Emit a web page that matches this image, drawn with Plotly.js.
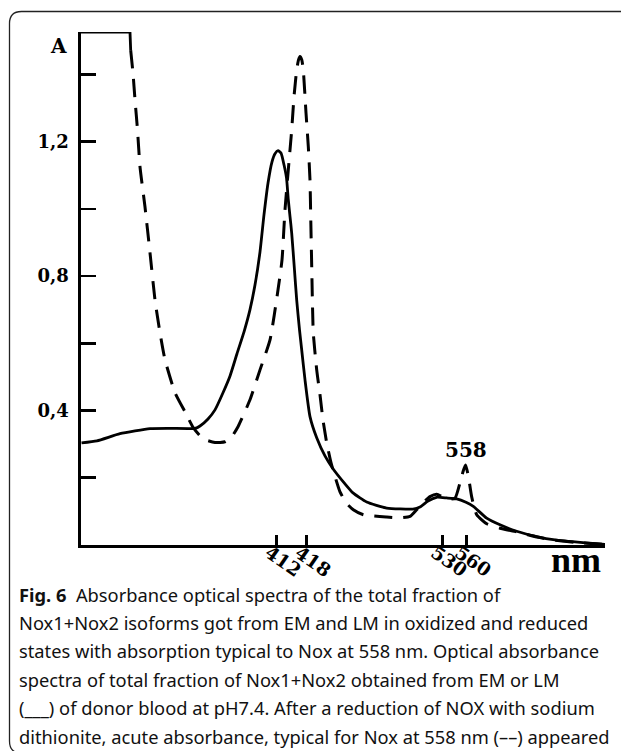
<!DOCTYPE html>
<html><head><meta charset="utf-8">
<script src="https://cdn.plot.ly/plotly-3.0.1.min.js"></script>
<style>html,body{margin:0;padding:0;background:#fff;}#chart{width:621px;height:751px;}</style>
</head><body><div id="chart"></div>
<script>
// Horizontal scale: position along the drawn wavelength axis (0 = left end, 100 = right end).
// The original schematic scale is non-linear, so the nm ticks sit at their drawn positions.
const xTickPos  = [37.35, 42.99, 69.03, 73.61];
const xTickText = ['412', '418', '530', '560'];
const yTickVals = [0.2, 0.4, 0.6, 0.8, 1.0, 1.2, 1.4];
const yTickText = ['', '0,4', '', '0,8', '', '1,2', ''];

// Oxidized spectrum (solid line)
const oxidX = [0.1, 3.05, 7.44, 13.17, 16.98, 21.76, 22.71, 24.24, 25.57, 27.1, 28.44, 29.77, 31.11, 32.25, 33.21, 34.16, 34.92, 35.69, 36.45, 37.02, 37.60, 38.17, 38.74, 39.22, 39.56, 39.89, 40.21, 40.74, 41.16, 41.70, 42.12, 42.75, 43.70, 44.98, 46.56, 48.09, 50.38, 51.91, 54.52, 58.34, 63.36, 64.69, 66.22, 67.88, 69.79, 71.70, 73.47, 74.87, 77.42, 79.96, 83.15, 86.97, 90.46, 95.80, 100];
const oxidA = [0.304, 0.310, 0.331, 0.346, 0.347, 0.347, 0.354, 0.375, 0.402, 0.453, 0.503, 0.569, 0.634, 0.700, 0.774, 0.872, 0.982, 1.077, 1.140, 1.164, 1.173, 1.166, 1.131, 1.092, 1.027, 0.977, 0.928, 0.818, 0.729, 0.640, 0.580, 0.491, 0.382, 0.319, 0.265, 0.227, 0.182, 0.155, 0.128, 0.110, 0.107, 0.113, 0.131, 0.142, 0.140, 0.137, 0.127, 0.115, 0.080, 0.060, 0.041, 0.025, 0.015, 0.007, 0.002];

// Dithionite-reduced spectrum (dashed line); first points are off-scale (saturated)
const redX = [0, 9.35, 9.48, 9.92, 10.31, 10.78, 11.26, 12.21, 13.17, 14.12, 15.08, 16.03, 17.94, 19.85, 21.43, 23.28, 25.57, 27.48, 28.63, 29.96, 32.25, 34.16, 36.07, 37.60, 38.36, 38.93, 39.56, 40.21, 40.65, 41.16, 41.51, 41.79, 42.14, 42.42, 42.94, 43.38, 43.70, 43.84, 44.03, 44.33, 44.98, 45.61, 46.18, 46.89, 47.71, 48.47, 49.43, 50.71, 51.97, 53.88, 58.34, 60.88, 62.79, 64.06, 65.65, 66.60, 67.88, 69.79, 71.37, 72.33, 72.90, 73.38, 73.91, 74.56, 75.52, 77.42, 79.96, 83.15, 86.97, 90.46, 95.80, 100];
const redA = [1.526, 1.526, 1.472, 1.404, 1.324, 1.235, 1.125, 1.006, 0.869, 0.729, 0.631, 0.551, 0.453, 0.396, 0.349, 0.316, 0.305, 0.307, 0.319, 0.352, 0.432, 0.521, 0.610, 0.759, 0.848, 0.997, 1.116, 1.235, 1.334, 1.413, 1.443, 1.453, 1.443, 1.413, 1.285, 1.185, 1.086, 0.977, 0.828, 0.631, 0.521, 0.447, 0.372, 0.304, 0.245, 0.204, 0.158, 0.123, 0.105, 0.090, 0.083, 0.081, 0.085, 0.105, 0.131, 0.144, 0.151, 0.137, 0.139, 0.185, 0.218, 0.238, 0.206, 0.143, 0.090, 0.063, 0.050, 0.039, 0.024, 0.014, 0.006, 0.002];
const satCount = 3; // off-scale segment drawn as a solid bracket

const peakLabel = '558';
const peakSearchFrom = 70; // look for the 558 nm peak right of this scale position
const yMax = 1.526;

const captionLines = [
  '<b>Fig. 6</b>\u00a0\u00a0Absorbance optical spectra of the total fraction of',
  'Nox1+Nox2 isoforms got from EM and LM in oxidized and reduced',
  'states with absorption typical to Nox at 558 nm. Optical absorbance',
  'spectra of total fraction of Nox1+Nox2 obtained from EM or LM',
  '(___) of donor blood at pH7.4. After a reduction of NOX with sodium',
  'dithionite, acute absorbance, typical for Nox at 558 nm (––) appeared'
];

// layout geometry (pixels)
const W = 621, H = 751, L = 81, R = 16, T = 32, B = 206;
const pw = W - L - R, ph = H - T - B;
const PX = p => (p - L) / pw;
const PY = p => (H - B - p) / ph;

let pk = -1;
for (let i = 0; i < redX.length; i++) {
  if (redX[i] > peakSearchFrom && (pk < 0 || redA[i] > redA[pk])) pk = i;
}

const serif = 'DejaVu Serif, Liberation Serif, serif';
const traces = [
  {x: oxidX, y: oxidA, mode: 'lines', line: {color: '#000', width: 2.8, shape: 'spline', smoothing: 0.5}, cliponaxis: false, hoverinfo: 'skip'},
  {x: redX.slice(0, satCount), y: redA.slice(0, satCount), mode: 'lines', line: {color: '#000', width: 2.8}, cliponaxis: false, hoverinfo: 'skip'},
  {x: redX.slice(satCount - 1), y: redA.slice(satCount - 1), mode: 'lines', line: {color: '#000', width: 3, dash: '18px,11px', shape: 'spline', smoothing: 0.5}, cliponaxis: false, hoverinfo: 'skip'}
];

let bx = v => PX(v).toFixed(5), by = v => PY(v).toFixed(5);
const framePath = `M ${bx(660)},${by(753)} L ${bx(21)},${by(753)} Q ${bx(9.5)},${by(753)} ${bx(9.5)},${by(741)} L ${bx(9.5)},${by(23.5)} Q ${bx(9.5)},${by(11.5)} ${bx(21.5)},${by(11.5)} L ${bx(660)},${by(11.5)}`;

const annotations = [
  {xref: 'paper', yref: 'paper', x: PX(58), y: PY(46), text: 'A', showarrow: false, xanchor: 'center', yanchor: 'middle', font: {family: serif, size: 20, color: '#000', weight: 'bold'}},
  {xref: 'paper', yref: 'paper', x: PX(576), y: PY(560), text: 'nm', showarrow: false, xanchor: 'center', yanchor: 'middle', font: {family: 'Liberation Serif, serif', size: 36, color: '#000', weight: 'bold'}},
  {xref: 'x', yref: 'y', x: redX[pk], y: redA[pk], text: peakLabel, showarrow: false, xanchor: 'center', yanchor: 'bottom', yshift: 1, font: {family: serif, size: 20, color: '#000', weight: 'bold'}}
];
// slanted wavelength labels under the ticks
xTickPos.forEach((v, i) => {
  annotations.push({xref: 'x', yref: 'paper', x: v, y: PY(561), text: xTickText[i], showarrow: false, textangle: 35,
    xanchor: 'center', yanchor: 'middle', xshift: 7, font: {family: serif, size: 18.5, color: '#000', weight: 'bold'}});
});
captionLines.forEach((t, i) => {
  annotations.push({xref: 'paper', yref: 'paper', x: PX(17), y: PY(594 + 28.4 * i), text: t, showarrow: false, xanchor: 'left', yanchor: 'middle', align: 'left', font: {family: 'Noto Sans, sans-serif', size: 18.3, color: '#111'}});
});

const layout = {
  width: W, height: H, margin: {l: L, r: R, t: T, b: B, pad: 0},
  paper_bgcolor: '#fff', plot_bgcolor: '#fff', showlegend: false,
  xaxis: {range: [0, 100], showgrid: false, zeroline: false, showline: true, linecolor: '#000', linewidth: 2.6,
          tickmode: 'array', tickvals: xTickPos, ticktext: xTickText, showticklabels: false, ticks: 'inside', ticklen: 10, tickwidth: 2.6, tickcolor: '#000', fixedrange: true},
  yaxis: {range: [0, yMax], showgrid: false, zeroline: false, showline: true, linecolor: '#000', linewidth: 2.6,
          tickmode: 'array', tickvals: yTickVals, ticktext: yTickText, ticks: 'inside', ticklen: 15, tickwidth: 2.6, tickcolor: '#000',
          ticklabelstandoff: 6, tickfont: {family: serif, size: 18, color: '#000', weight: 'bold'}, fixedrange: true},
  shapes: [{type: 'path', xref: 'paper', yref: 'paper', path: framePath, line: {color: '#222', width: 1.3}}],
  annotations: annotations
};
Plotly.newPlot('chart', traces, layout, {displayModeBar: false, staticPlot: true});
</script></body></html>
